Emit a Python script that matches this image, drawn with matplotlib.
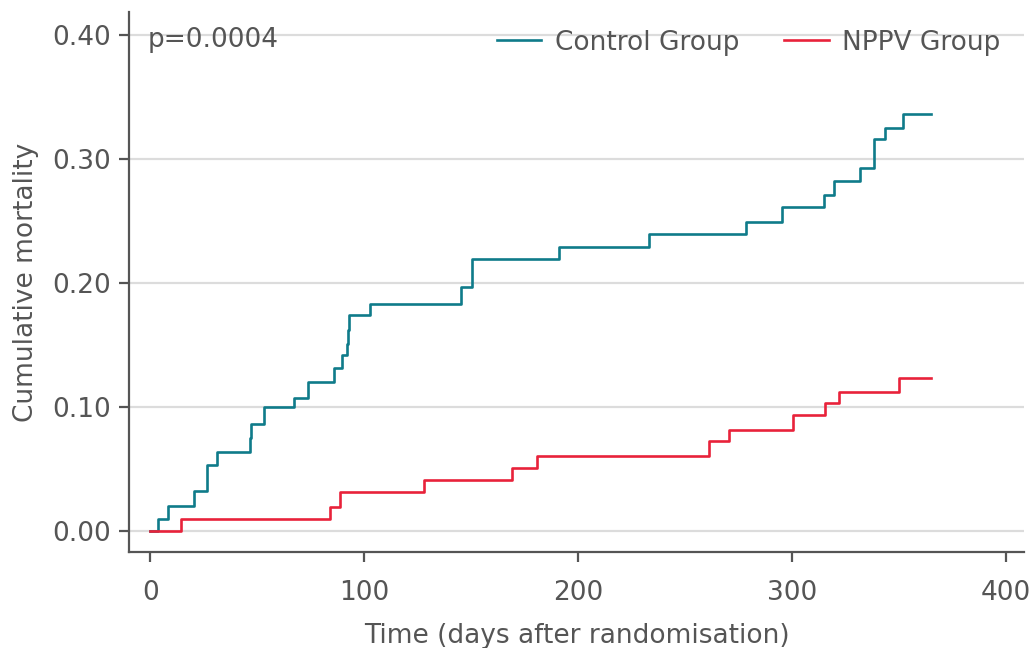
import matplotlib
matplotlib.use("Agg")
import matplotlib.pyplot as plt

plt.rcParams['font.family'] = ['DejaVu Sans']

# Data
control_days = [0, 3.6, 8.1, 20.3, 26.7, 31.2, 46.8, 47.1, 53.2, 67.0, 73.6, 85.8, 89.7,
                92.0, 92.3, 92.8, 102.8, 145.5, 150.2, 191.0, 233.1, 278.8, 295.5, 315.0,
                319.5, 331.7, 338.2, 338.6, 343.7, 352.1, 365]
control_mort = [0, 0.0099, 0.0204, 0.032, 0.053, 0.064, 0.075, 0.086, 0.0996, 0.107, 0.120,
                0.131, 0.142, 0.151, 0.162, 0.174, 0.183, 0.197, 0.219, 0.229, 0.239, 0.249,
                0.261, 0.271, 0.282, 0.2925, 0.303, 0.316, 0.325, 0.336, 0.336]

nppv_days = [0, 14.5, 83.9, 88.9, 128.2, 169.2, 180.7, 261.2, 270.5, 300.5, 315.3, 322.0,
             350.1, 365]
nppv_mort = [0, 0.0099, 0.0193, 0.0318, 0.0413, 0.0508, 0.0608, 0.0729, 0.0812, 0.0931,
             0.1034, 0.112, 0.123, 0.123]

xticks = [0, 100, 200, 300, 400]
yticks = [0.0, 0.1, 0.2, 0.3, 0.4]
ytick_labels = ['0.00', '0.10', '0.20', '0.30', '0.40']

control_color = '#0f7b8a'
nppv_color = '#e8223a'
text_color = '#555555'
fs = 19

fig = plt.figure(figsize=(10.35, 6.48), dpi=100)
ax = fig.add_axes([0.125, 0.148, 0.864, 0.833])

for y in yticks:
    ax.axhline(y, color='#dcdcdc', lw=1.6, zorder=0)

ax.step(control_days, control_mort, where='post', color=control_color, lw=1.9,
        label='Control Group', zorder=3)
ax.step(nppv_days, nppv_mort, where='post', color=nppv_color, lw=1.9,
        label='NPPV Group', zorder=3)

ax.set_xlim(-9.8, 408.4)
ax.set_ylim(-0.017, 0.418)
ax.set_xticks(xticks)
ax.set_xticklabels([str(t) for t in xticks])
ax.set_yticks(yticks)
ax.set_yticklabels(ytick_labels)

for s in ['top', 'right']:
    ax.spines[s].set_visible(False)
for s in ['left', 'bottom']:
    ax.spines[s].set_color('#555555')
    ax.spines[s].set_linewidth(1.6)

ax.tick_params(axis='both', colors='#555555', labelcolor=text_color, labelsize=fs,
               length=7, width=1.6, direction='out')
ax.tick_params(axis='x', pad=13)
ax.tick_params(axis='y', pad=6)

ax.set_xlabel('Time (days after randomisation)', fontsize=fs, color=text_color, labelpad=12)
ax.set_ylabel('Cumulative mortality', fontsize=fs, color=text_color, labelpad=10)

ax.text(0.02, 0.948, 'p=0.0004', transform=ax.transAxes, fontsize=fs, color=text_color,
        va='center', ha='left')

leg = ax.legend(loc='center right', ncol=2, frameon=False, fontsize=fs, handlelength=1.7,
                handletextpad=0.5, columnspacing=1.7, bbox_to_anchor=(0.974, 0.944),
                borderaxespad=0, borderpad=0)
for t in leg.get_texts():
    t.set_color(text_color)

fig.savefig('out.png', dpi=100)
